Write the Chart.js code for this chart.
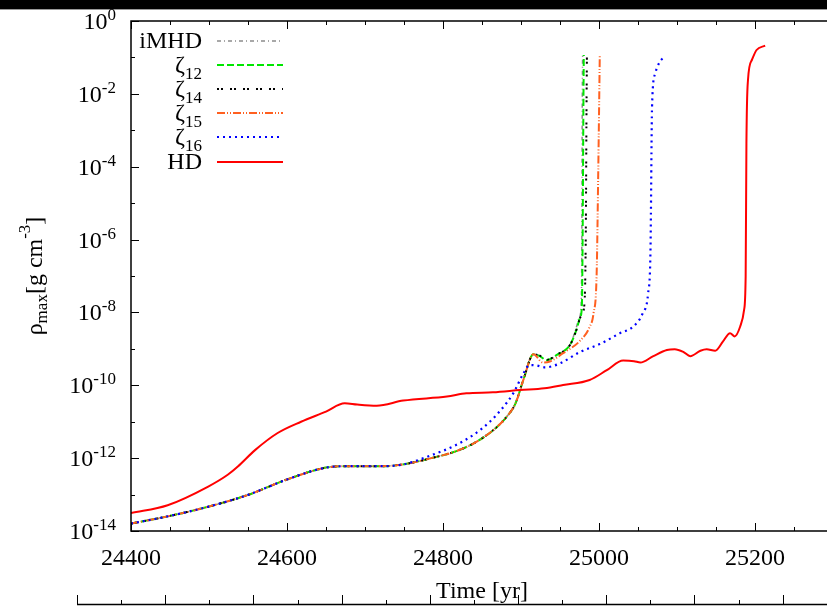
<!DOCTYPE html>
<html>
<head>
<meta charset="utf-8">
<script src="https://cdn.jsdelivr.net/npm/chart.js@4.4.0/dist/chart.umd.min.js"></script>
<style>
html, body { margin: 0; padding: 0; background: #fff; overflow: hidden; }
canvas { display: block; }
</style>
</head>
<body>
<canvas id="rhoChart" width="827" height="608"></canvas>
<script>
// time [yr] vs maximum density [g cm^-3]

// early part shared by all magnetised runs
const tEarly = [24400, 24450, 24500, 24550, 24600, 24650, 24675, 24720, 24750];
const rhoEarly = [1.6e-14, 2.6e-14, 4.7e-14, 9.8e-14, 2.6e-13, 5.5e-13, 6.0e-13, 6.0e-13, 6.8e-13];

// shared by iMHD, zeta12, zeta14, zeta15 up to the first peak
const tMid = [24785, 24815, 24840, 24865, 24882, 24893, 24903, 24916];
const rhoMid = [1.0e-12, 1.5e-12, 2.6e-12, 6.0e-12, 1.4e-11, 3.2e-11, 1.4e-10, 7.1e-10];

const tIMHD = [24924, 24933, 24946, 24963, 24970, 24975, 24977, 24978, 24978.5, 24979];
const rhoIMHD = [6.3e-10, 4.9e-10, 6.8e-10, 1.3e-9, 3.3e-9, 7.5e-9, 1.45e-8, 1e-6, 4.5e-3, 0.117];

const tZ12 = [24924, 24933, 24946, 24963, 24971, 24976, 24978, 24979, 24980, 24980.5];
const rhoZ12 = [6.3e-10, 4.9e-10, 6.8e-10, 1.3e-9, 3.3e-9, 7.5e-9, 1.45e-8, 1e-6, 4.5e-3, 0.117];

const tZ14 = [24924, 24933, 24946, 24963, 24971, 24977, 24981, 24983, 24984, 24984.5];
const rhoZ14 = [6.5e-10, 5.0e-10, 6.9e-10, 1.3e-9, 3.3e-9, 8.0e-9, 1.45e-8, 1e-6, 4.5e-3, 0.117];

const tZ15 = [24928, 24937, 24954, 24976, 24988, 24993, 24997, 24999, 25001];
const rhoZ15 = [4.2e-10, 4.5e-10, 7.6e-10, 1.7e-9, 4.0e-9, 9.5e-9, 1.2e-7, 6.6e-5, 0.117];

const tZ16 = [24785, 24815, 24840, 24860, 24875, 24890, 24903, 24911, 24920, 24931, 24950, 24976,
              25001, 25027, 25044, 25056, 25063, 25066, 25068, 25072, 25078, 25085];
const rhoZ16 = [1.2e-12, 2.2e-12, 4.5e-12, 1.0e-11, 2.2e-11, 6.0e-11, 2.1e-10, 3.6e-10, 3.5e-10, 3.1e-10, 4.0e-10, 8.3e-10,
                1.35e-9, 2.7e-9, 4.1e-9, 9.5e-9, 3.4e-8, 5.1e-7, 4.5e-3, 3.6e-2, 7.6e-2, 0.105];

const tHD = [24400, 24447, 24499, 24524, 24537, 24559, 24588, 24618, 24650, 24674, 24690, 24715, 24749,
             24805, 24830, 24864, 24899, 24930, 24954, 24988, 25010, 25031, 25045, 25053, 25069, 25087,
             25097, 25108, 25117, 25130, 25138, 25149, 25159, 25168, 25174, 25181, 25186, 25188, 25189,
             25191, 25196, 25202, 25213];
const rhoHD = [3.1e-14, 5.1e-14, 1.66e-13, 3.5e-13, 5.9e-13, 1.66e-12, 4.9e-12, 1.0e-11, 1.9e-11, 3.2e-11, 2.95e-11, 2.75e-11, 3.8e-11,
               4.9e-11, 6.0e-11, 6.4e-11, 7.4e-11, 8.3e-11, 1.02e-10, 1.4e-10, 2.6e-10, 4.8e-10, 4.6e-10, 4.2e-10, 6.2e-10, 9.3e-10,
               9.8e-10, 8.3e-10, 6.3e-10, 8.9e-10, 9.8e-10, 8.9e-10, 1.6e-9, 2.7e-9, 2.2e-9, 4.1e-9, 1.17e-8, 9.5e-8, 4.4e-4,
               2.4e-2, 8.5e-2, 0.16, 0.21];

// legend text (main part + subscript)
const legendMain = ['iMHD', 'ζ', 'ζ', 'ζ', 'ζ', 'HD'];
const legendSub = ['', '12', '14', '15', '16', ''];

// tick labels
const xTickLabels = [24400, 24600, 24800, 25000, 25200];
const yTickExps = [0, -2, -4, -6, -8, -10, -12, -14];

const FONT = '"Liberation Serif", "Times New Roman", serif';

function pts(ts, rs) {
    return ts.map((t, i) => ({ x: t, y: rs[i] }));
}

const seriesStyle = [
    { color: '#8c8c8c', dash: [4, 3, 1, 3], width: 1.5 },
    { color: '#00e600', dash: [7, 3], width: 2 },
    { color: '#000000', dash: [2, 2, 2, 7], width: 2 },
    { color: '#ff6020', dash: [8, 2, 1, 2, 1, 2], width: 2 },
    { color: '#0000ff', dash: [2, 4], width: 2.2 },
    { color: '#ff0000', dash: [], width: 2 },
];

const seriesData = [
    pts(tEarly.concat(tMid, tIMHD), rhoEarly.concat(rhoMid, rhoIMHD)),
    pts(tEarly.concat(tMid, tZ12), rhoEarly.concat(rhoMid, rhoZ12)),
    pts(tEarly.concat(tMid, tZ14), rhoEarly.concat(rhoMid, rhoZ14)),
    pts(tEarly.concat(tMid, tZ15), rhoEarly.concat(rhoMid, rhoZ15)),
    pts(tEarly.concat(tZ16), rhoEarly.concat(rhoZ16)),
    pts(tHD, rhoHD),
];

// gnuplot draws the last curve on top, chart.js draws lowest order on top
const datasets = seriesData.map((d, i) => ({
    label: legendMain[i] + legendSub[i],
    data: d,
    borderColor: seriesStyle[i].color,
    borderDash: seriesStyle[i].dash,
    borderWidth: seriesStyle[i].width,
    pointRadius: 0,
    fill: false,
    cubicInterpolationMode: 'monotone',
    order: 5 - i,
}));

// axes, ticks, labels and legend in gnuplot style
const gnuplotFrame = {
    id: 'gnuplotFrame',
    afterDraw(chart) {
        const ctx = chart.ctx;
        const a = chart.chartArea;
        const xs = chart.scales.x;
        const ys = chart.scales.y;
        ctx.save();

        // black bar left over from the panel above
        ctx.fillStyle = '#000';
        ctx.fillRect(0, 0, chart.width, 9);
        ctx.fillStyle = '#999';
        ctx.fillRect(0, 9, chart.width, 1);

        // frame: left, top, bottom (the right side is cut off in the figure)
        ctx.strokeStyle = '#000';
        ctx.lineWidth = 1.5;
        ctx.setLineDash([]);
        ctx.beginPath();
        ctx.moveTo(chart.width, a.top); ctx.lineTo(a.left, a.top);
        ctx.lineTo(a.left, a.bottom); ctx.lineTo(chart.width, a.bottom);
        ctx.stroke();

        // x ticks (inward, bottom and top)
        ctx.lineWidth = 1;
        for (let t = 24400; t <= 25300; t += 50) {
            const px = Math.round(xs.getPixelForValue(t)) + 0.5;
            const len = t % 200 === 0 ? 8 : 4;
            ctx.beginPath();
            ctx.moveTo(px, a.bottom); ctx.lineTo(px, a.bottom - len);
            ctx.moveTo(px, a.top); ctx.lineTo(px, a.top + len);
            ctx.stroke();
        }
        // y ticks
        for (let e = 0; e >= -14; e--) {
            const py = Math.round(ys.getPixelForValue(Math.pow(10, e))) + 0.5;
            const len = e % 2 === 0 ? 8 : 4;
            ctx.beginPath();
            ctx.moveTo(a.left, py); ctx.lineTo(a.left + len, py);
            ctx.stroke();
        }

        ctx.fillStyle = '#000';
        ctx.textBaseline = 'alphabetic';
        // x tick labels
        ctx.font = '24px ' + FONT;
        ctx.textAlign = 'center';
        xTickLabels.forEach(v => {
            ctx.fillText(String(v), xs.getPixelForValue(v), 565);
        });

        // y tick labels: 10 with superscript exponent
        yTickExps.forEach(e => {
            const py = ys.getPixelForValue(Math.pow(10, e));
            ctx.font = '17px ' + FONT;
            const sup = String(e);
            const wSup = ctx.measureText(sup).width;
            ctx.textAlign = 'left';
            ctx.fillText(sup, 116 - wSup, py - 1);
            ctx.font = '24px ' + FONT;
            ctx.textAlign = 'right';
            ctx.fillText('10', 116 - wSup, py + 8);
        });

        // x title, centred on the full (uncut) plot width
        ctx.font = '24px ' + FONT;
        ctx.textAlign = 'center';
        ctx.fillText('Time [yr]', (a.left + xs.getPixelForValue(25300)) / 2, 598);

        // y title, rotated
        ctx.save();
        ctx.translate(42, (a.top + a.bottom) / 2);
        ctx.rotate(-Math.PI / 2);
        const parts = [
            { s: 'ρ', f: 24, dy: 0 },
            { s: 'max', f: 17, dy: 5 },
            { s: '[g cm', f: 24, dy: 0 },
            { s: '-3', f: 17, dy: -12 },
            { s: ']', f: 24, dy: 0 },
        ];
        let total = 0;
        parts.forEach(p => { ctx.font = p.f + 'px ' + FONT; p.w = ctx.measureText(p.s).width; total += p.w; });
        let cx = -total / 2;
        ctx.textAlign = 'left';
        parts.forEach(p => {
            ctx.font = p.f + 'px ' + FONT;
            ctx.fillText(p.s, cx, p.dy);
            cx += p.w;
        });
        ctx.restore();

        // legend
        const rowY = [41, 65, 89, 113, 137, 162];
        legendMain.forEach((m, i) => {
            const r = rowY[i];
            let right = 202;
            if (legendSub[i]) {
                ctx.font = '17px ' + FONT;
                ctx.textAlign = 'right';
                ctx.fillText(legendSub[i], right, r + 14);
                right -= ctx.measureText(legendSub[i]).width;
            }
            ctx.font = '24px ' + FONT;
            ctx.textAlign = 'right';
            ctx.fillText(m, right, r + 7);

            const st = seriesStyle[i];
            ctx.save();
            ctx.strokeStyle = st.color;
            ctx.lineWidth = st.width;
            ctx.setLineDash(st.dash);
            ctx.beginPath();
            ctx.moveTo(217, r); ctx.lineTo(283, r);
            ctx.stroke();
            ctx.restore();
        });

        // axis of the panel below, cut off at the bottom edge
        ctx.strokeStyle = '#000';
        ctx.lineWidth = 1.5;
        ctx.beginPath();
        ctx.moveTo(77, 604.5); ctx.lineTo(chart.width, 604.5);
        ctx.stroke();
        ctx.lineWidth = 1;
        for (let k = 0; k < 18; k++) {
            const px = Math.round(77 + k * 44.1) + 0.5;
            const len = k % 2 === 0 ? 9 : 4;
            ctx.beginPath();
            ctx.moveTo(px, 604); ctx.lineTo(px, 604 - len);
            ctx.stroke();
        }
        ctx.restore();
    }
};

new Chart(document.getElementById('rhoChart').getContext('2d'), {
    type: 'line',
    data: { datasets: datasets },
    options: {
        responsive: false,
        animation: false,
        layout: {
            padding: { left: 131, right: 0, top: 21, bottom: 77 },
        },
        plugins: {
            legend: { display: false },
            tooltip: { enabled: false },
        },
        scales: {
            x: { type: 'linear', min: 24400, max: 25292.3, display: false },
            y: { type: 'logarithmic', min: 1e-14, max: 1, display: false },
        },
    },
    plugins: [gnuplotFrame],
});
</script>
</body>
</html>
